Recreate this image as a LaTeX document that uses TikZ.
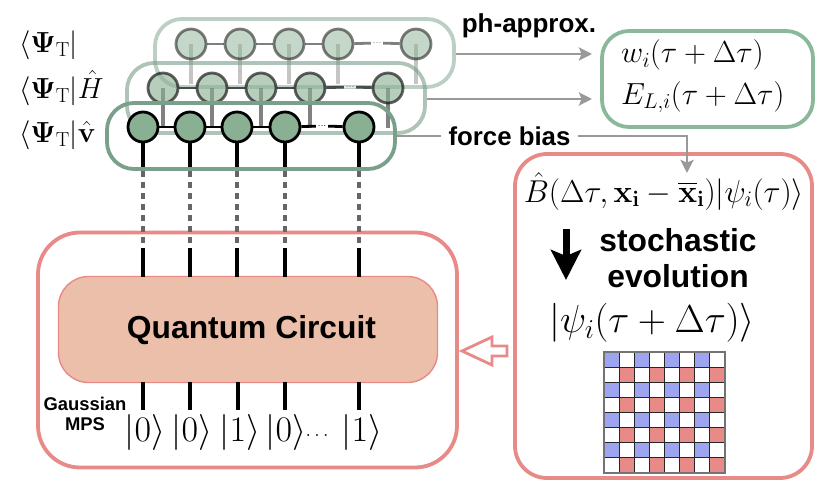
\documentclass[tikz,border=0pt]{standalone}
\usepackage{fix-cm}
\usepackage[no-math]{fontspec}
\usepackage{amssymb}
\usepackage{amsmath}
\usetikzlibrary{arrows.meta}
\newfontfamily\labelfont{Liberation Sans}
\definecolor{sitegreen}{HTML}{8AB094}
\definecolor{tubegreen}{HTML}{7A9F8A}
\definecolor{resultgreen}{HTML}{8AB89A}
\definecolor{boxpink}{HTML}{E88A87}
\definecolor{circuitfill}{HTML}{EBBFA9}
\definecolor{cellblue}{HTML}{9DA5F0}
\definecolor{arrowgray}{HTML}{999999}
\tikzset{
    site/.style={circle,draw=black,fill=sitegreen,line width=2.8pt,minimum size=30pt,inner sep=0pt},
    tube/.style={draw=tubegreen,line width=3.8pt,rectangle,rounded corners=27pt,inner sep=0pt},
    panel/.style={draw=boxpink,line width=3.8pt,rectangle,inner sep=0pt,fill=white},
    flow/.style={draw=arrowgray,line width=2.8pt,-{Stealth[length=13pt,width=13pt,inset=2.5pt]}},
    bond/.style={line width=2.8pt},
    leg/.style={line width=3.1pt},
    gap/.style={fill=white,inner xsep=1.5pt,inner ysep=0.5pt,font=\fontsize{11}{11}\selectfont},
    bigmath/.style={font=\fontsize{30.5}{36}\selectfont},
    bra/.style={font=\fontsize{29}{30}\selectfont,anchor=west,inner sep=0pt},
    ket/.style={font=\fontsize{36}{38}\selectfont,inner sep=0pt},
    bold/.style={font=\labelfont\bfseries\fontsize{#1}{#1}\selectfont}
}
\begin{document}
\begin{tikzpicture}[x=1pt,y=-1pt]
    \useasboundingbox (0,0) rectangle (822,492);

    % back row
    \begin{scope}[opacity=.5]
        \node[tube,minimum width=299pt,minimum height=68pt] (tubeA) at (304.5,53) {};
        \foreach \i/\x in {1/191,2/240,3/289,4/338,5/416} {
            \coordinate (endA\i) at (\x,84);
            \draw[leg,draw=black!45] (\x,44) -- (endA\i);
            \node[site] (a\i) at (\x,44) {};
        }
        \node[gap] (dotsA) at (377,43) {...};
        \draw[bond] (a1) -- (a2);
        \draw[bond] (a2) -- (a3);
        \draw[bond] (a3) -- (a4);
        \draw[bond] (a4) -- (dotsA);
        \draw[bond] (dotsA) -- (a5);
    \end{scope}

    % middle row
    \begin{scope}[opacity=.62]
        \node[tube,minimum width=298pt,minimum height=70pt] (tubeB) at (276,98) {};
        \foreach \i/\x in {1/163,2/212,3/261,4/310,5/388} {
            \coordinate (endB\i) at (\x,128);
            \draw[leg,draw=black!80] (\x,88) -- (endB\i);
            \node[site] (b\i) at (\x,88) {};
        }
        \node[gap] (dotsB) at (350,87) {...};
        \draw[bond] (b1) -- (b2);
        \draw[bond] (b2) -- (b3);
        \draw[bond] (b3) -- (b4);
        \draw[bond] (b4) -- (dotsB);
        \draw[bond] (dotsB) -- (b5);
    \end{scope}

    % pink panels
    \node[panel,rounded corners=42pt,minimum width=419pt,minimum height=235pt] (mpspanel) at (247.5,350) {};
    \node[panel,rounded corners=32pt,minimum width=297pt,minimum height=324pt] (evolpanel) at (663.5,316) {};
    \node[draw=boxpink,fill=circuitfill,line width=1.4pt,rounded corners=30pt,minimum width=379pt,minimum height=106pt] (circuit) at (248,329.5) {};
    \node[bold=31.8,inner sep=0pt] (circuitname) at (251.5,330) {Quantum Circuit};

    % front row
    \node[tube,minimum width=288pt,minimum height=66pt] (tubeC) at (251,136) {};
    \foreach \i/\x in {1/143,2/190,3/237,4/285,5/359} {
        \coordinate (endC\i) at (\x,167);
        \coordinate (dashC\i) at (\x,248);
        \coordinate (topC\i) at (\x,277);
        \draw[leg] (\x,127) -- (endC\i);
        \node[site] (c\i) at (\x,127) {};
        \draw[leg,draw=black!60,dash pattern=on 6pt off 5pt] (\x,171) -- (dashC\i);
        \draw[leg] (dashC\i) -- (topC\i);
    }
    \node[gap] (dotsC) at (322,126) {...};
    \draw[bond] (c1) -- (c2);
    \draw[bond] (c2) -- (c3);
    \draw[bond] (c3) -- (c4);
    \draw[bond] (c4) -- (dotsC);
    \draw[bond] (dotsC) -- (c5);

    % bra labels
    \node[bra] (braA) at (19,45) {$\langle\mathbf{\Psi}_{\mathrm{T}}|$};
    \node[bra] (braB) at (19,88) {$\langle\mathbf{\Psi}_{\mathrm{T}}|\hat{H}$};
    \node[bra] (braC) at (19,135) {$\langle\mathbf{\Psi}_{\mathrm{T}}|\hat{\mathbf{v}}$};

    % results box and arrows
    \node[draw=resultgreen,line width=3.8pt,rounded corners=27pt,minimum width=211pt,minimum height=96pt] (result) at (707.5,79) {};
    \node[bigmath,anchor=west,inner sep=0pt] (weight) at (621,55) {$w_i(\tau+\Delta\tau)$};
    \node[bigmath,anchor=west,inner sep=0pt] (energy) at (621,97) {$E_{L,i}(\tau+\Delta\tau)$};
    \node[bold=26,anchor=south,inner sep=0pt] (phlabel) at (529,38) {ph-approx.};
    \coordinate (inA) at (592,54);
    \coordinate (inB) at (592,99);
    \draw[flow] (tubeA.east |- inA) -- (inA);
    \draw[flow] (tubeB.east |- inB) -- (inB);

    % force bias
    \node[bold=25.8,inner xsep=7pt,inner ysep=0pt] (force) at (509.5,136) {force bias};
    \coordinate (inC) at (687,173);
    \draw[draw=arrowgray,line width=2.8pt] (tubeC.east) -- (force.west);
    \draw[flow] (force.east) -| (inC);

    % evolution panel
    \node[font=\fontsize{31.6}{34}\selectfont,inner sep=0pt] (bprop) at (664,191) {$\hat{B}(\Delta\tau,\mathbf{x_i}-\overline{\mathbf{x}}_{\mathbf{i}})|\psi_i(\tau)\rangle$};
    \node[bold=31.8,align=center,inner sep=0pt] (stoch) at (678,258) {stochastic\\[4pt]evolution};
    \coordinate (downA) at (566,229);
    \coordinate (downB) at (566,280);
    \draw[line width=7pt,-{Stealth[length=30pt,width=30pt,inset=6pt]}] (downA) -- (downB);
    \node[font=\fontsize{39}{40}\selectfont,inner sep=0pt] (psinext) at (652,323) {$|\psi_i(\tau+\Delta\tau)\rangle$};

    % lattice
    \foreach \r in {0,2,4,6}
        \foreach \c in {0,2,4,6} {
            \fill[cellblue] ({604+15.125*\c},{352+15.125*\r}) rectangle ++(15.125,15.125);
            \fill[boxpink] ({604+15.125*(\c+1)},{352+15.125*(\r+1)}) rectangle ++(15.125,15.125);
        }
    \foreach \k in {1,...,7} {
        \draw[black!85,line width=1.1pt] ({604+15.125*\k},352) -- ({604+15.125*\k},473);
        \draw[black!85,line width=1.1pt] (604,{352+15.125*\k}) -- (725,{352+15.125*\k});
    }
    \draw[black!55,line width=1.3pt] (604,352) rectangle (725,473);

    % hollow arrow
    \draw[draw=boxpink,fill=white,line width=2.8pt] (462,351) -- (492,337) -- (492,346) -- (507,346) -- (507,356) -- (492,356) -- (492,365) -- cycle;

    % physical legs and kets
    \foreach \i/\x in {1/143,2/190,3/238,4/285,5/359} {
        \coordinate (topD\i) at (\x,382);
        \coordinate (endD\i) at (\x,410);
        \draw[leg] (topD\i) -- (endD\i);
    }
    \node[ket] (k1) at (145,432) {$|0\rangle$};
    \node[ket] (k2) at (192,432) {$|0\rangle$};
    \node[ket] (k3) at (240,432) {$|1\rangle$};
    \node[ket] (k4) at (286,432) {$|0\rangle$};
    \node[font=\fontsize{20}{24}\selectfont,inner sep=0pt] (kdots) at (317,436) {$\ldots$};
    \node[ket] (k5) at (362,432) {$|1\rangle$};
    \node[bold=18.4,align=center,inner sep=0pt] (mps) at (85,414) {Gaussian\\[2pt]MPS};
\end{tikzpicture}
\end{document}
